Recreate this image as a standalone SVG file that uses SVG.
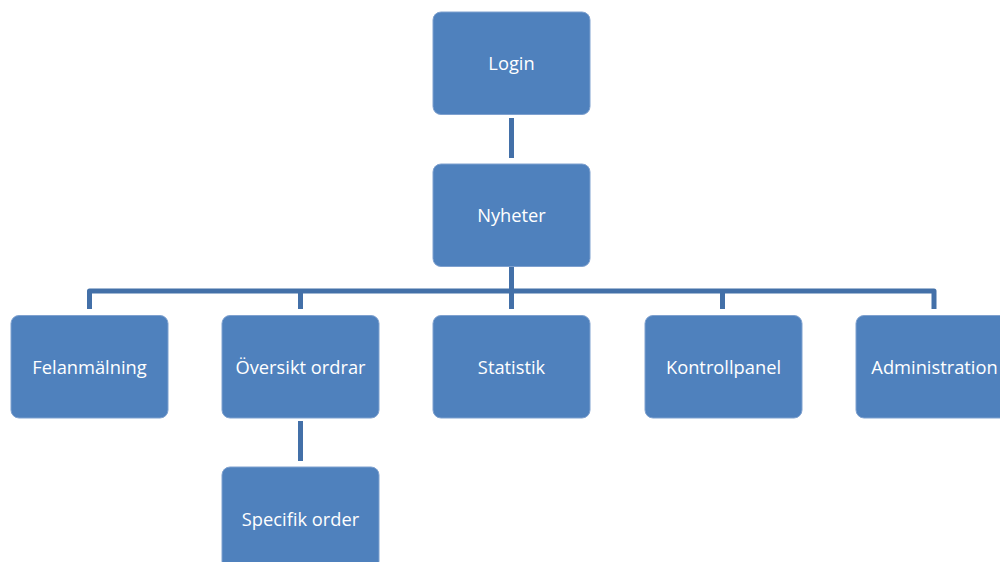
<svg xmlns="http://www.w3.org/2000/svg" width="1000" height="562" viewBox="0 0 1000 562">
<style>
.box{fill:#4F81BD;stroke:#7FA1CF;stroke-width:1}
.lbl{font-family:"Open Sans","Liberation Sans",sans-serif;font-size:18.3px;fill:#FFFFFF;text-anchor:middle;dominant-baseline:central}
.con{stroke:#4370A8;stroke-width:5;fill:none;stroke-linejoin:round}
</style>
<rect width="1000" height="562" fill="#FFFFFF"/>
<g id="connectors">
<line class="con" x1="511.5" y1="118" x2="511.5" y2="158"/>
<path class="con" d="M89.5,309 V291 H934 V309"/>
<line class="con" x1="300.5" y1="291" x2="300.5" y2="309"/>
<line class="con" x1="511.5" y1="266" x2="511.5" y2="309"/>
<line class="con" x1="722.5" y1="291" x2="722.5" y2="309"/>
<line class="con" x1="300.5" y1="421" x2="300.5" y2="461"/>
</g>
<g id="login"><rect class="box" x="433" y="12" width="157" height="102.5" rx="8"/><text class="lbl" x="511.5" y="62">Login</text></g>
<g id="nyheter"><rect class="box" x="433" y="164" width="157" height="102.5" rx="8"/><text class="lbl" x="511.5" y="214">Nyheter</text></g>
<g id="felanmalning"><rect class="box" x="11" y="315.5" width="157" height="102.5" rx="8"/><text class="lbl" x="89.5" y="366">Felanmälning</text></g>
<g id="oversikt"><rect class="box" x="222" y="315.5" width="157" height="102.5" rx="8"/><text class="lbl" x="300.5" y="366">Översikt ordrar</text></g>
<g id="statistik"><rect class="box" x="433" y="315.5" width="157" height="102.5" rx="8"/><text class="lbl" x="511.5" y="366">Statistik</text></g>
<g id="kontrollpanel"><rect class="box" x="645" y="315.5" width="157" height="102.5" rx="8"/><text class="lbl" x="723.5" y="366">Kontrollpanel</text></g>
<g id="administration"><rect class="box" x="856" y="315.5" width="157" height="102.5" rx="8"/><text class="lbl" x="934.5" y="366">Administration</text></g>
<g id="specifik"><rect class="box" x="222" y="467" width="157" height="102.5" rx="8"/><text class="lbl" x="300.5" y="518">Specifik order</text></g>
</svg>
